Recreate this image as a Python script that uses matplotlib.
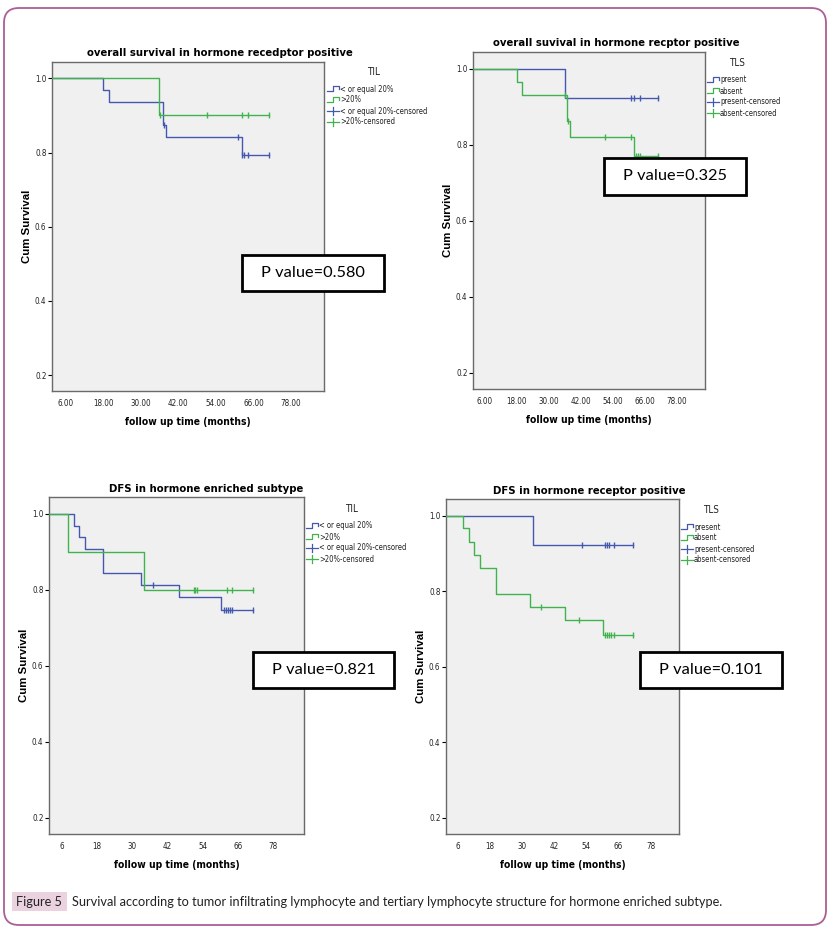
import matplotlib
matplotlib.use("Agg")
import matplotlib.pyplot as plt
from matplotlib import font_manager
from matplotlib.patches import Rectangle, FancyBboxPatch
from matplotlib.lines import Line2D
import numpy as np

W, H = 830, 934

# SPSS output uses a narrow Arial; pick the closest thing that is installed
_fonts = font_manager.fontManager.ttflist
_names = {f.name for f in _fonts}
STRETCH = 'normal'
K = 1.0
if 'Liberation Sans Narrow' in _names:
    NARROW = ['Liberation Sans Narrow', 'DejaVu Sans']
    K = 1.2
elif any(f.name == 'DejaVu Sans' and f.stretch == 'condensed' for f in _fonts):
    NARROW = ['DejaVu Sans']
    STRETCH = 'condensed'
    K = 1.1
else:
    NARROW = ['Liberation Sans', 'DejaVu Sans']
ARIAL = ['Liberation Sans', 'DejaVu Sans']
CALIB = ['Lato', 'DejaVu Sans']

BLUE = '#4558b0'
GREEN = '#40b34e'

# ---- data (months, cumulative survival) ----
# top-left: OS by TIL
p1_title = "overall survival in hormone recedptor positive"
p1_low_t = [0, 18.0, 20.0, 37.0, 38.2, 62.2]
p1_low_s = [1.0, 0.969, 0.9375, 0.875, 0.842, 0.792]
p1_low_c = [37.3, 61.2, 62.3, 63.1, 64.1, 71.1]
p1_high_t = [0, 36.0]
p1_high_s = [1.0, 0.9]
p1_high_c = [36.2, 51.2, 62.2, 64.1, 71.1]

# top-right: OS by TLS
p2_title = "overall suvival in hormone recptor positive"
p2_pres_t = [0, 36.1]
p2_pres_s = [1.0, 0.923]
p2_pres_c = [61.0, 61.9, 64.2, 71.1]
p2_abs_t = [0, 18.1, 20.0, 37.0, 38.0, 62.0]
p2_abs_s = [1.0, 0.966, 0.931, 0.862, 0.821, 0.769]
p2_abs_c = [36.1, 37.2, 51.1, 61.0, 62.5, 63.4, 64.2, 71.1]

# bottom-left: DFS by TIL
p3_title = "DFS in hormone enriched subtype"
p3_low_t = [0, 10.1, 11.9, 13.9, 20.0, 33.0, 45.9, 60.3]
p3_low_s = [1.0, 0.968, 0.9375, 0.906, 0.844, 0.812, 0.781, 0.747]
p3_low_c = [37.1, 61.1, 61.9, 62.6, 63.2, 64.0, 71.1]
p3_high_t = [0, 8.0, 34.0]
p3_high_s = [1.0, 0.9, 0.8]
p3_high_c = [50.9, 51.4, 52.0, 62.2, 64.0, 71.1]

# bottom-right: DFS by TLS
p4_title = "DFS in hormone receptor positive"
p4_pres_t = [0, 34.2]
p4_pres_s = [1.0, 0.923]
p4_pres_c = [52.3, 60.9, 61.7, 62.4, 64.2, 71.3]
p4_abs_t = [0, 8.0, 10.4, 12.0, 14.2, 20.2, 33.1, 46.1, 60.3]
p4_abs_s = [1.0, 0.966, 0.931, 0.897, 0.862, 0.793, 0.759, 0.724, 0.685]
p4_abs_c = [37.2, 51.2, 61.0, 61.8, 62.6, 63.3, 64.2, 71.3]

p_values = ["0.580", "0.325", "0.821", "0.101"]
til_labels = ["< or equal 20%", ">20%", "< or equal 20%-censored", ">20%-censored"]
tls_labels = ["present", "absent", "present-censored", "absent-censored"]
x_ticks = [6, 18, 30, 42, 54, 66, 78]
y_ticks = [0.2, 0.4, 0.6, 0.8, 1.0]

caption = ("Survival according to tumor infiltrating lymphocyte and tertiary "
           "lymphocyte structure for hormone enriched subtype.")

fig = plt.figure(figsize=(W / 100, H / 100), dpi=100)
fig.patch.set_facecolor('white')


def fx(x):
    return x / W


def fy(y):
    return 1 - y / H


def ntext(x, y, s, size, **kw):
    # text in the narrow SPSS-like face, pixel coords from top-left
    return fig.text(fx(x), fy(y), s, family=NARROW, fontstretch=STRETCH,
                    fontsize=size * K, **kw)


def km(ax, t, s, cens, color):
    end = max(cens[-1], t[-1])
    ax.step(list(t) + [end], list(s) + [s[-1]], where='post',
            color=color, lw=1.0, zorder=3)
    idx = np.searchsorted(t, cens, side='right') - 1
    ax.plot(cens, np.array(s)[idx], ls='none', marker='|', ms=4.5,
            mew=1.0, color=color, zorder=4)


def panel(box, title, tpos, curves, group, goff, labels, pval, pbox, fmt, legpos):
    l, t, r, b = box
    ax = fig.add_axes([fx(l), fy(b), fx(r - l), (b - t) / H])
    ax.set_facecolor('#f0f0f0')
    for (tt, ss, cc, col) in curves:
        km(ax, tt, ss, cc, col)
    ax.set_xlim(1.7, 88.5)
    ax.set_ylim(0.157, 1.044)
    ax.set_xticks(x_ticks)
    ax.set_xticklabels([fmt % v for v in x_ticks])
    ax.set_yticks(y_ticks)
    ax.set_yticklabels(["%.1f" % v for v in y_ticks])
    for lab in ax.get_xticklabels() + ax.get_yticklabels():
        lab.set_family(NARROW)
        lab.set_fontstretch(STRETCH)
        lab.set_fontsize(5.2 * K)
        lab.set_color('#222222')
    ax.tick_params(axis='x', length=0, pad=6)
    ax.tick_params(axis='y', length=3, width=0.8, pad=1)
    for sp in ax.spines.values():
        sp.set_color('#6a6a6a')
        sp.set_linewidth(1.0)
    ntext(tpos[0], tpos[1], title, 7.4, fontweight='bold', ha='center', va='center')
    ntext((l + r) / 2, b + 31, "follow up time (months)", 6.7,
          fontweight='bold', ha='center', va='center')
    fig.text(fx(l - 25), fy((t + b) / 2), "Cum Survival", family=ARIAL,
             fontsize=8.2, fontweight='bold', rotation=90,
             ha='center', va='center')

    # legend (SPSS style)
    lx, ly = legpos
    ntext(lx + goff, ly - 17, group, 6.5, ha='center', va='center', color='#222222')
    cols = [curves[0][3], curves[1][3], curves[0][3], curves[1][3]]
    for i, (lab, col) in enumerate(zip(labels, cols)):
        yy = ly + i * 11
        if i < 2:
            xs = [lx, lx + 6, lx + 6, lx + 12, lx + 12]
            ys = [yy + 2, yy + 2, yy - 3, yy - 3, yy]
        else:
            xs = [lx, lx + 12]
            ys = [yy, yy]
            fig.add_artist(Line2D([fx(lx + 6)] * 2, [fy(yy - 4), fy(yy + 4)],
                                  color=col, lw=0.9))
        fig.add_artist(Line2D([fx(v) for v in xs], [fy(v) for v in ys],
                              color=col, lw=0.9))
        ntext(lx + 13, yy, lab, 5.0, ha='left', va='center', color='#222222')

    # p value box
    x0, y0, x1, y1 = pbox
    fig.add_artist(Rectangle((fx(x0), fy(y1)), fx(x1 - x0), (y1 - y0) / H,
                             transform=fig.transFigure, facecolor='white',
                             edgecolor='black', lw=2.0, zorder=10))
    fig.text(fx((x0 + x1) / 2), fy((y0 + y1) / 2), "P value=" + pval,
             family=CALIB, fontsize=11.8, ha='center', va='center', zorder=11)
    return ax


panel((52, 62, 324, 391), p1_title, (220, 53),
      [(p1_low_t, p1_low_s, p1_low_c, BLUE), (p1_high_t, p1_high_s, p1_high_c, GREEN)],
      "TIL", 46, til_labels, p_values[0], (242, 255, 384, 291), "%.2f", (327, 89))
panel((473, 52, 705, 389), p2_title, (616, 43),
      [(p2_pres_t, p2_pres_s, p2_pres_c, BLUE), (p2_abs_t, p2_abs_s, p2_abs_c, GREEN)],
      "TLS", 30, tls_labels, p_values[1], (604, 158, 746, 195), "%.2f", (707, 80))
panel((49, 497, 304, 834), p3_title, (206, 489),
      [(p3_low_t, p3_low_s, p3_low_c, BLUE), (p3_high_t, p3_high_s, p3_high_c, GREEN)],
      "TIL", 45, til_labels, p_values[2], (253, 652, 394, 688), "%d", (306, 526))
panel((446, 499, 679, 834), p4_title, (589, 491),
      [(p4_pres_t, p4_pres_s, p4_pres_c, BLUE), (p4_abs_t, p4_abs_s, p4_abs_c, GREEN)],
      "TLS", 30, tls_labels, p_values[3], (640, 652, 782, 688), "%d", (681, 527))

# outer frame and caption
fig.add_artist(FancyBboxPatch((fx(4), fy(925)), fx(822), (925 - 8) / H,
                              boxstyle="round,pad=0,rounding_size=0.018",
                              transform=fig.transFigure, facecolor='none',
                              edgecolor='#ac5f94', lw=1.3, mutation_aspect=W / H))
fig.add_artist(Rectangle((fx(12), fy(911)), fx(55), 19 / H,
                         transform=fig.transFigure, facecolor='#ead3de',
                         edgecolor='none'))
fig.text(fx(16), fy(901.5), "Figure 5", family=CALIB, fontsize=9.2,
         ha='left', va='center', color='#222222')
fig.text(fx(72), fy(901.5), caption, family=CALIB, fontsize=9.2,
         ha='left', va='center', color='#222222')

fig.savefig("out.png", dpi=100)
